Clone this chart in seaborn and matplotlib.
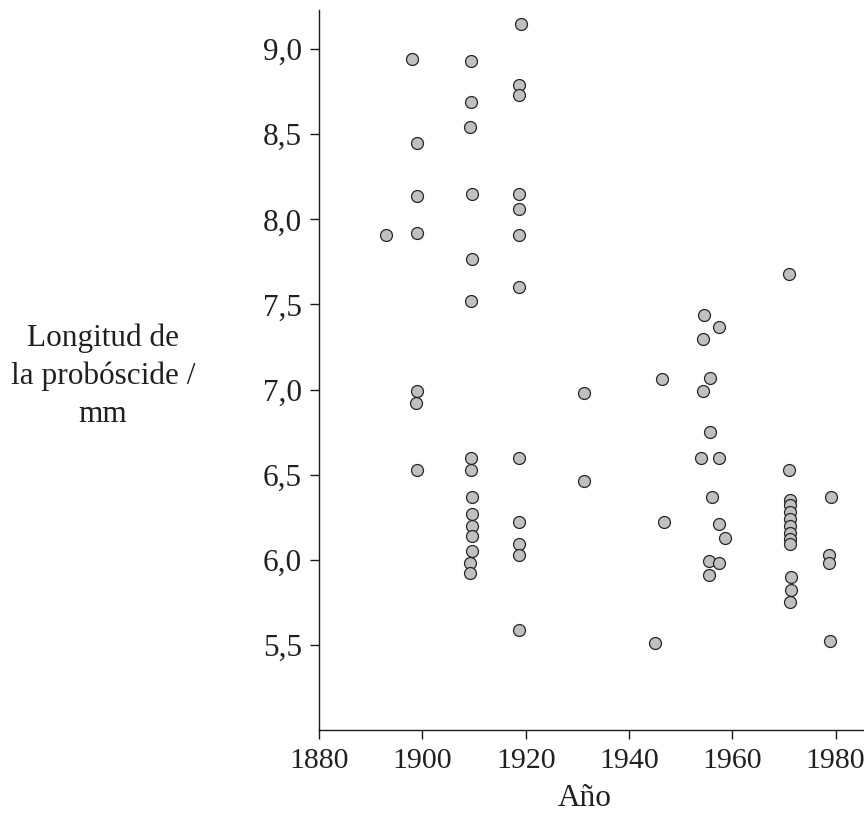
import matplotlib
matplotlib.use("Agg")
import matplotlib.pyplot as plt
import seaborn as sns
import pandas as pd
from matplotlib.ticker import FuncFormatter

year = [
    1892.9,
    1897.9,
    1898.9, 1898.9, 1898.9, 1898.9, 1898.8, 1898.9,
    1909.4, 1909.4, 1909.2, 1909.5, 1909.5, 1909.4, 1909.4, 1909.4, 1909.5,
    1909.5, 1909.5, 1909.5, 1909.5, 1909.2, 1909.2,
    1919.0, 1918.7, 1918.7, 1918.7, 1918.7, 1918.7, 1918.7, 1918.6, 1918.7,
    1918.7, 1918.7, 1918.7,
    1931.2, 1931.2,
    1945.1, 1946.4, 1946.7,
    1954.6, 1957.5, 1954.4, 1955.7, 1954.4, 1955.6, 1954.0, 1957.4, 1956.0,
    1957.4, 1958.6, 1955.5, 1957.5, 1955.5,
    1971.0, 1971.0, 1971.2, 1971.2, 1971.2, 1971.2, 1971.2, 1971.2, 1971.2,
    1971.2, 1971.4, 1971.4, 1971.2,
    1979.1, 1978.8, 1978.8, 1978.9,
]
length = [
    7.91,
    8.94,
    8.45, 8.14, 7.92, 6.99, 6.92, 6.53,
    8.93, 8.69, 8.54, 8.15, 7.77, 7.52, 6.60, 6.53, 6.37,
    6.27, 6.20, 6.14, 6.05, 5.98, 5.92,
    9.15, 8.79, 8.73, 8.15, 8.06, 7.91, 7.60, 6.60, 6.22,
    6.09, 6.03, 5.59,
    6.98, 6.46,
    5.51, 7.06, 6.22,
    7.44, 7.37, 7.30, 7.07, 6.99, 6.75, 6.60, 6.60, 6.37,
    6.21, 6.13, 5.99, 5.98, 5.91,
    7.68, 6.53, 6.35, 6.32, 6.28, 6.24, 6.20, 6.16, 6.12,
    6.09, 5.90, 5.82, 5.75,
    6.37, 6.03, 5.98, 5.52,
]
x_ticks = [1880, 1900, 1920, 1940, 1960, 1980]
y_ticks = [5.5, 6.0, 6.5, 7.0, 7.5, 8.0, 8.5, 9.0]
x_label = "Año"
y_label = "Longitud de\nla probóscide /\nmm"

df = pd.DataFrame({"Año": year, "Longitud": length})

sns.set_style("ticks")
plt.rcParams["font.family"] = ["Liberation Serif", "DejaVu Serif"]

FS = 22.5
TXT = "#231f20"

fig = plt.figure(figsize=(8.64, 8.14), dpi=100)
ax = fig.add_axes([0.3694, 0.1032, 0.6306, 0.8845])

sns.scatterplot(data=df, x="Año", y="Longitud", ax=ax, s=74,
                color="#c0c0c0", edgecolor="#262626", linewidth=0.9,
                zorder=3, clip_on=False)

ax.set_xlim(1880, 1985.5)
ax.set_ylim(5.0, 9.23)
ax.set_xticks(x_ticks)
ax.set_yticks(y_ticks)
ax.yaxis.set_major_formatter(FuncFormatter(lambda v, p: f"{v:.1f}".replace(".", ",")))
ax.xaxis.set_major_formatter(FuncFormatter(lambda v, p: f"{int(v)}"))

for side in ["top", "right"]:
    ax.spines[side].set_visible(False)
for side in ["left", "bottom"]:
    ax.spines[side].set_color("#1a1a1a")
    ax.spines[side].set_linewidth(1.0)

ax.tick_params(axis="both", direction="out", length=6.5, width=1.0,
               color="#1a1a1a", labelsize=FS, labelcolor=TXT)
ax.tick_params(axis="x", pad=6.5, labelsize=21.5)
ax.tick_params(axis="y", pad=6)

ax.set_xlabel("")
ax.set_ylabel("")
fig.text(585 / 864, 1 - 806 / 814, x_label, fontsize=FS, color=TXT,
         ha="center", va="baseline")
fig.text(103 / 864, 1 - 376 / 814, y_label, fontsize=FS, color=TXT,
         ha="center", va="center", linespacing=1.4)

fig.savefig("out.png", dpi=100)
